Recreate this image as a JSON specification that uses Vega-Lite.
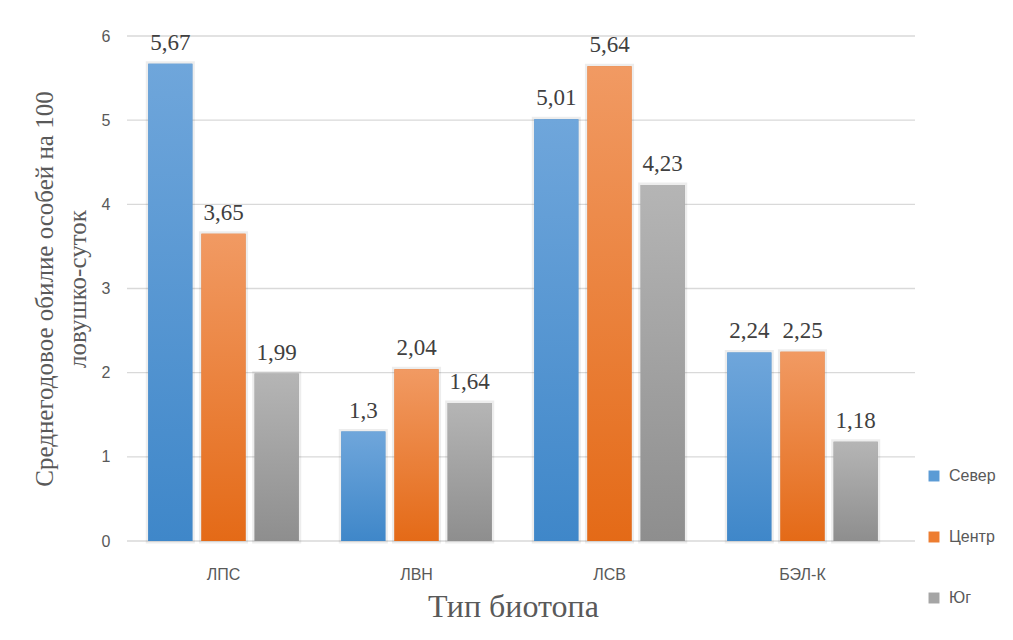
{
  "$schema": "https://vega.github.io/schema/vega-lite/v6.json",
  "autosize": {"type": "none"},
  "padding": {"left": 127, "top": 36, "right": 98, "bottom": 99},
  "width": 788,
  "height": 505,
  "background": "white",
  "datasets": {
    "bars": [
      {"biotope": "ЛПС", "zone": "Север", "value": 5.67},
      {"biotope": "ЛПС", "zone": "Центр", "value": 3.65},
      {"biotope": "ЛПС", "zone": "Юг", "value": 1.99},
      {"biotope": "ЛВН", "zone": "Север", "value": 1.3},
      {"biotope": "ЛВН", "zone": "Центр", "value": 2.04},
      {"biotope": "ЛВН", "zone": "Юг", "value": 1.64},
      {"biotope": "ЛСВ", "zone": "Север", "value": 5.01},
      {"biotope": "ЛСВ", "zone": "Центр", "value": 5.64},
      {"biotope": "ЛСВ", "zone": "Юг", "value": 4.23},
      {"biotope": "БЭЛ-К", "zone": "Север", "value": 2.24},
      {"biotope": "БЭЛ-К", "zone": "Центр", "value": 2.25},
      {"biotope": "БЭЛ-К", "zone": "Юг", "value": 1.18}
    ],
    "grid": [
      {"value": 0}, {"value": 1}, {"value": 2}, {"value": 3}, {"value": 4}, {"value": 5}, {"value": 6}
    ]
  },
  "layer": [
    {
      "data": {"name": "grid"},
      "mark": {"type": "rule", "color": "#d9d9d9", "strokeWidth": 1.3},
      "encoding": {
        "y": {
          "field": "value", "type": "quantitative",
          "scale": {"domain": [0, 6], "nice": false},
          "axis": {
            "title": ["Среднегодовое обилие особей на 100", "ловушко-суток"],
            "titleFont": "Liberation Serif", "titleFontSize": 25, "titleFontWeight": "normal",
            "titleColor": "#595959", "titleLineHeight": 33, "titlePadding": 11,
            "labelFont": "Liberation Sans", "labelFontSize": 16, "labelColor": "#595959",
            "labelPadding": 17, "values": [0, 1, 2, 3, 4, 5, 6], "format": "d",
            "domain": false, "ticks": false, "grid": false
          }
        }
      }
    },
    {
      "data": {"name": "bars"},
      "transform": [
        {"calculate": "replace(toString(datum.value), '.', ',')", "as": "label"}
      ],
      "encoding": {
        "x": {
          "field": "biotope", "type": "nominal", "sort": ["ЛПС", "ЛВН", "ЛСВ", "БЭЛ-К"],
          "scale": {"range": [0, 772], "paddingInner": 0.22, "paddingOuter": 0.11},
          "axis": {
            "title": "Тип биотопа", "titleFont": "Liberation Serif", "titleFontSize": 32,
            "titleFontWeight": "normal", "titleColor": "#595959", "titlePadding": 9,
            "labelFont": "Liberation Sans", "labelFontSize": 16, "labelColor": "#595959",
            "labelPadding": 25, "labelAngle": 0, "domain": false, "ticks": false, "grid": false
          }
        },
        "xOffset": {
          "field": "zone", "type": "nominal", "sort": ["Север", "Центр", "Юг"],
          "scale": {"paddingInner": 0.17, "paddingOuter": 0}
        },
        "y": {"field": "value", "type": "quantitative"}
      },
      "layer": [
        {
          "mark": {"type": "bar", "stroke": "#000000", "strokeOpacity": 0.07, "strokeWidth": 5},
          "encoding": {
            "color": {
              "field": "zone", "type": "nominal", "sort": ["Север", "Центр", "Юг"],
              "scale": {"domain": ["Север", "Центр", "Юг"], "range": ["#5b9bd5", "#ed7d31", "#a5a5a5"]},
              "legend": {
                "title": null, "orient": "none", "legendX": 799, "legendY": 432,
                "symbolType": "square", "symbolSize": 120, "symbolStrokeWidth": 0,
                "labelFont": "Liberation Sans", "labelFontSize": 16, "labelColor": "#595959",
                "rowPadding": 45, "labelOffset": 7
              }
            }
          }
        },
        {
          "mark": {"type": "bar"},
          "encoding": {
            "fill": {
              "condition": [
                {"test": "datum.zone === 'Север'", "value": {"gradient": "linear", "x1": 0, "y1": 0, "x2": 0, "y2": 1, "stops": [{"offset": 0, "color": "#6fa6db"}, {"offset": 1, "color": "#3f87c9"}]}},
                {"test": "datum.zone === 'Центр'", "value": {"gradient": "linear", "x1": 0, "y1": 0, "x2": 0, "y2": 1, "stops": [{"offset": 0, "color": "#f19a63"}, {"offset": 1, "color": "#e46a17"}]}}
              ],
              "value": {"gradient": "linear", "x1": 0, "y1": 0, "x2": 0, "y2": 1, "stops": [{"offset": 0, "color": "#b5b5b5"}, {"offset": 1, "color": "#8e8e8e"}]}
            }
          }
        },
        {
          "mark": {"type": "text", "baseline": "bottom", "dy": -9, "font": "Liberation Serif", "fontSize": 23, "color": "#404040"},
          "encoding": {
            "text": {"field": "label", "type": "nominal"}
          }
        }
      ]
    }
  ],
  "config": {"view": {"stroke": null}}
}
